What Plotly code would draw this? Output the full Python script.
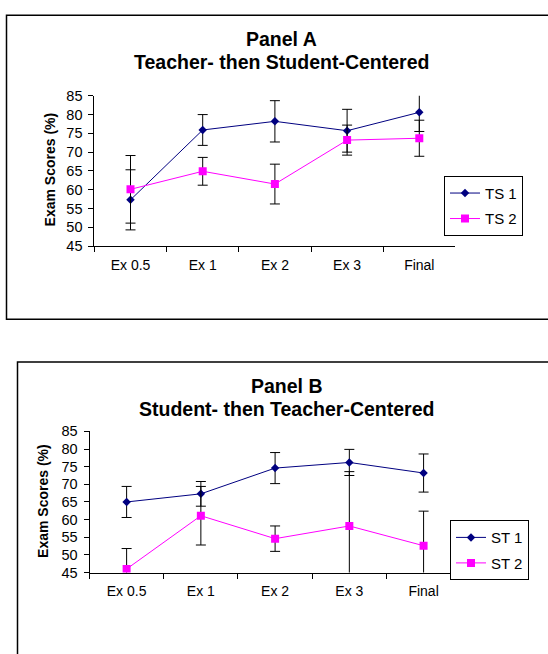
import plotly.graph_objects as go

W, H = 548, 654

exams = ["Ex 0.5", "Ex 1", "Ex 2", "Ex 3", "Final"]

# Panel A: teacher- then student-centered sections
ts1 = [57.3, 75.9, 78.2, 75.7, 80.6]
ts1_err = [8.0, 4.1, 5.5, 5.7, 5.1]
ts2 = [60.1, 64.9, 61.5, 73.2, 73.7]
ts2_err = [9.0, 3.7, 5.3, 4.0, 4.8]

# Panel B: student- then teacher-centered sections
st1 = [65.0, 67.3, 74.6, 76.2, 73.2]
st1_err = [4.4, 3.5, 4.4, 3.7, 5.4]
st2 = [46.0, 61.1, 54.6, 58.2, 52.6]
st2_err = [5.8, 8.3, 3.6, 15.4, 9.8]

y_ticks = [45, 50, 55, 60, 65, 70, 75, 80, 85]

NAVY = "#000080"
MAGENTA = "#FF00FF"
FONT = "Liberation Sans, Arial, sans-serif"


def px_x(x):
    return x / W


def px_y(y):
    return 1 - y / H


def series(name, x, y, err, color, symbol, size, xa, ya, legend):
    return go.Scatter(
        x=x, y=y, name=name, mode="lines+markers",
        xaxis=xa, yaxis=ya, legend=legend, legendgroup=name,
        line=dict(color=color, width=1),
        marker=dict(color=color, symbol=symbol, size=size,
                    line=dict(width=0)),
        error_y=dict(type="data", array=err, visible=True,
                     color="black", thickness=1, width=5),
    )


fig = go.Figure()
fig.add_trace(series("TS 1", exams, ts1, ts1_err, NAVY, "diamond", 6.5, "x", "y", "legend"))
fig.add_trace(series("TS 2", exams, ts2, ts2_err, MAGENTA, "square", 8, "x", "y", "legend"))
fig.add_trace(series("ST 1", exams, st1, st1_err, NAVY, "diamond", 6.5, "x2", "y2", "legend2"))
fig.add_trace(series("ST 2", exams, st2, st2_err, MAGENTA, "square", 8, "x2", "y2", "legend2"))

xaxis_common = dict(
    type="category", categoryorder="array", categoryarray=exams,
    range=[-0.5, 4.5], showline=True, linecolor="black", linewidth=1,
    ticks="outside", tickson="boundaries", ticklen=5, tickcolor="black",
    showgrid=False, zeroline=False, fixedrange=True,
    tickfont=dict(family=FONT, size=14, color="black"),
    ticklabelstandoff=6,
)
yaxis_common = dict(
    range=[45, 85], tickvals=y_ticks, showline=True, linecolor="black",
    linewidth=1, ticks="outside", ticklen=5, tickcolor="black",
    showgrid=False, zeroline=False, fixedrange=True,
    tickfont=dict(family=FONT, size=14.5, color="black"),
    ticklabelstandoff=3,
)

legend_common = dict(
    bgcolor="white", bordercolor="black", borderwidth=1,
    font=dict(family=FONT, size=15, color="black"),
    traceorder="grouped", tracegroupgap=3,
    xanchor="left", yanchor="top",
)

fig.update_layout(
    width=W, height=H,
    margin=dict(l=0, r=0, t=0, b=0),
    paper_bgcolor="white", plot_bgcolor="white",
    showlegend=True,
    xaxis=dict(domain=[px_x(94.4), px_x(455.4)], anchor="y", **xaxis_common),
    yaxis=dict(domain=[px_y(244), px_y(90)], anchor="x", **yaxis_common),
    xaxis2=dict(domain=[px_x(89.5), px_x(460.7)], anchor="y2", **xaxis_common),
    yaxis2=dict(domain=[px_y(578.7), px_y(434)], anchor="x2", **yaxis_common),
    legend=dict(x=px_x(444), y=px_y(172), **legend_common),
    legend2=dict(x=px_x(450), y=px_y(525), **legend_common),
)

# Panel frames
fig.add_shape(type="rect", xref="paper", yref="paper",
              x0=px_x(6.5), y0=px_y(319), x1=1.05, y1=px_y(7.5),
              line=dict(color="black", width=1.5), fillcolor="rgba(0,0,0,0)",
              layer="below")
fig.add_shape(type="rect", xref="paper", yref="paper",
              x0=px_x(17.5), y0=-0.05, x1=1.05, y1=px_y(363),
              line=dict(color="black", width=1.5), fillcolor="rgba(0,0,0,0)",
              layer="below")

titles = [
    ("Panel A", 281.3, 32),
    ("Teacher- then Student-Centered", 281.3, 55.5),
    ("Panel B", 286.6, 387),
    ("Student- then Teacher-Centered", 286.6, 411.5),
]
for text, x, y in titles:
    fig.add_annotation(text=f"<b>{text}</b>", xref="paper", yref="paper",
                       x=px_x(x), y=px_y(y), xanchor="center", yanchor="middle",
                       showarrow=False,
                       font=dict(family=FONT, size=19.5, color="black"))

for x, y in [(50, 165.5), (43.7, 505.6)]:
    fig.add_annotation(text="<b>Exam Scores (%)</b>", xref="paper", yref="paper",
                       x=px_x(x), y=px_y(y), xanchor="center", yanchor="middle",
                       textangle=-90, showarrow=False,
                       font=dict(family=FONT, size=14, color="black"))

fig.write_html("out.html")
